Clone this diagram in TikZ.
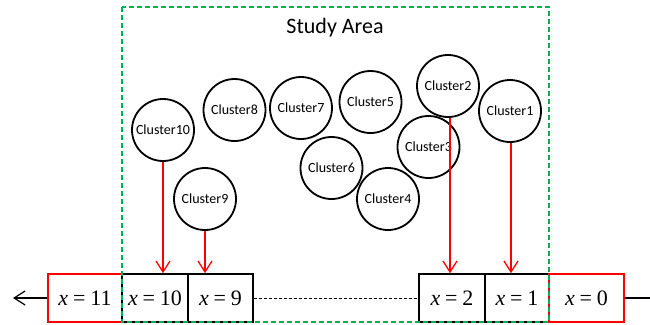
\documentclass[tikz,border=0pt]{standalone}
\usepackage{fontspec}
\setmainfont{Carlito}
\newfontfamily\tnr{Liberation Serif}
\usetikzlibrary{arrows.meta}
\definecolor{studygreen}{RGB}{0,176,80}
\newcommand{\xlab}[1]{\textit{x}\hspace{0.22em}=\hspace{0.22em}#1}
\begin{document}
\begin{tikzpicture}[x=1pt,y=-1pt,
 clus/.style={circle,draw,line width=1.8pt,minimum size=62pt,inner sep=0pt,font=\fontsize{14}{16}\selectfont},
 cell/.style={draw,line width=1.6pt,minimum height=48pt,inner sep=0pt,font=\tnr\fontsize{22}{24}\selectfont},
 redcell/.style={cell,draw=red},
 link/.style={draw=red,line width=1.3pt,-{Straight Barb[length=11pt,width=14pt,line width=1.3pt]}},
 axis/.style={line width=1.2pt}
]
\useasboundingbox (0,0) rectangle (650,324);
% cells
\node[redcell,minimum width=74pt] (b11) at (85,298) {\xlab{11}};
\node[cell,minimum width=66pt] (b10) at (155,298) {\xlab{10}};
\node[cell,minimum width=65pt] (b9) at (220.5,298) {\xlab{9}};
\node[cell,minimum width=66pt] (b2) at (452,298) {\xlab{2}};
\node[cell,minimum width=64pt] (b1) at (517,298) {\xlab{1}};
\node[redcell,minimum width=75pt] (b0) at (586.5,298) {\xlab{0}};
\coordinate (lend) at (13,298);
\coordinate (rend) at (650,298);
\draw[axis,-{Straight Barb[length=11pt,width=14pt,line width=1.2pt]}] (b11.west) -- (lend);
\draw[axis] (b0.east) -- (rend);
\draw[line width=0.8pt,dash pattern=on 3pt off 2pt] (b9.east) -- (b2.west);
% study area
\draw[studygreen,line width=1.6pt,dash pattern=on 5pt off 3pt] (122,7) rectangle (549,322);
\node[font=\fontsize{22}{26}\selectfont] (title) at (335,28) {Study Area};
% clusters
\node[clus] (c1) at (510,111) {Cluster1};
\node[clus] (c2) at (448,86) {Cluster2};
\node[clus] (c3) at (428.5,147) {Cluster3};
\node[clus] (c4) at (388,199) {Cluster4};
\node[clus] (c5) at (370.5,102) {Cluster5};
\node[clus] (c6) at (331.5,168) {Cluster6};
\node[clus] (c7) at (301,108) {Cluster7};
\node[clus] (c8) at (234.5,110) {Cluster8};
\node[clus] (c9) at (205,199) {Cluster9};
\node[clus] (c10) at (163,130) {Cluster10};
% links
\draw[link] (c10.south) -- (c10.south |- b10.north);
\draw[link] (c9.south) -- (c9.south |- b9.north);
\draw[link] ([xshift=2pt]c2.south) -- ([xshift=2pt]c2.south |- b2.north);
\draw[link] ([xshift=1pt]c1.south) -- ([xshift=1pt]c1.south |- b1.north);
\end{tikzpicture}
\end{document}
